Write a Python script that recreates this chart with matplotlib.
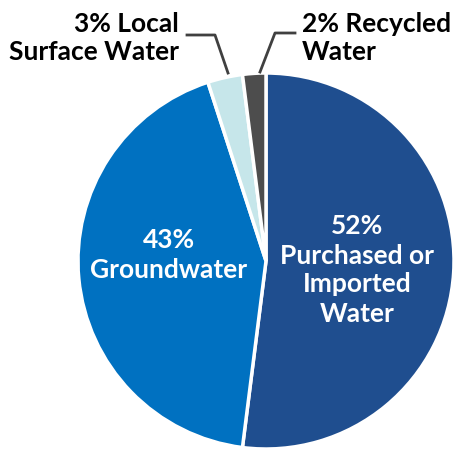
import matplotlib.pyplot as plt

# water supply shares
labels = ["52%\nPurchased or\nImported\nWater", "43%\nGroundwater", "3% Local\nSurface Water", "2% Recycled\nWater"]
shares = [52, 43, 3, 2]
colors = ["#1F4E8F", "#0071C1", "#C6E6EA", "#4D4D4D"]

plt.rcParams['font.family'] = ['Lato', 'DejaVu Sans']

fig = plt.figure(figsize=(4.54, 4.51), dpi=100)
ax = fig.add_axes([0, 0, 1, 1])

# pie placed in pixel coordinates of the figure
cx, cy, r = 266, 451 - 261, 188
ax.pie(shares, colors=colors, startangle=90, counterclock=False,
       center=(cx, cy), radius=r, frame=True,
       wedgeprops=dict(edgecolor="white", linewidth=2.5))
ax.set_xlim(0, 454)
ax.set_ylim(0, 451)
ax.set_aspect("equal")
ax.axis("off")

fs = 19

# inside labels
ax.text(357, 451 - 270, labels[0], ha="center", va="center", color="white",
        fontsize=fs, fontweight="bold", linespacing=1.25)
ax.text(169, 451 - 255, labels[1], ha="center", va="center", color="white",
        fontsize=fs, fontweight="bold", linespacing=1.25)

# outside labels with leader lines
ax.text(179, 451 - 38, labels[2], ha="right", va="center", color="black",
        fontsize=fs, fontweight="bold", linespacing=1.2, multialignment="right")
ax.plot([228, 215, 187], [451 - 73, 451 - 35, 451 - 35], color="#404040", lw=2)

ax.text(302, 451 - 38, labels[3], ha="left", va="center", color="black",
        fontsize=fs, fontweight="bold", linespacing=1.2)
ax.plot([260, 275, 295], [451 - 72, 451 - 33, 451 - 33], color="#404040", lw=2)

fig.savefig("out.png", dpi=100)
